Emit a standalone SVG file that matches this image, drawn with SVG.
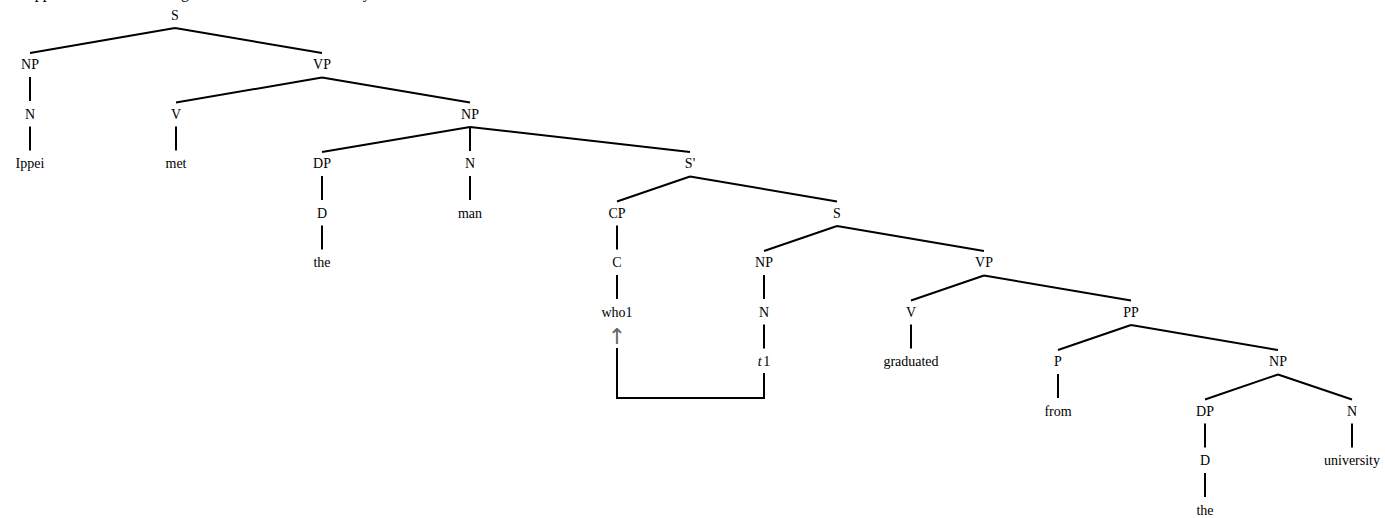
<svg xmlns="http://www.w3.org/2000/svg" width="1385" height="518" viewBox="0 0 1385 518">
<style>
text{font-family:"Liberation Serif","Times New Roman",serif;font-size:14px;fill:#000;text-anchor:middle}
.sent{font-size:16px;text-anchor:start}
.arr{font-family:"DejaVu Sans",sans-serif;font-size:22px;fill:#666}
.e{stroke:#000;stroke-width:2;fill:none}
</style>
<rect width="1385" height="518" fill="#fff"/>
<text class="sent" x="29.5" y="-2.5">Ippei met the man who graduated from the university</text>
<g id="connectors" class="e">
<path d="M175,28L30,53M175,28L322,53"/>
<path d="M30,77V101M30,126.5V150.5"/>
<path d="M322,77.5L176,102.5M322,77.5L470,102.5"/>
<path d="M176,126.5V150.5"/>
<path d="M470,127L322,152M470,127V151M470,127L690,152"/>
<path d="M322,176V200M322,225.5V249.5M470,176V200"/>
<path d="M690,176.5L617,201.5M690,176.5L837,201.5"/>
<path d="M617,225.5V249.5M617,275V299"/>
<path d="M837,226L764,251M837,226L984,251"/>
<path d="M764,275V299M764,324.5V348.5"/>
<path d="M984,275.5L911,300.5M984,275.5L1131,300.5"/>
<path d="M911,324.5V348.5"/>
<path d="M1131,325L1058,350M1131,325L1278,350"/>
<path d="M1058,374V398"/>
<path d="M1278,374.5L1205,399.5M1278,374.5L1352,399.5"/>
<path d="M1205,423.5V447.5M1205,473V497M1352,423.5V447.5"/>
<path d="M617,348V398H764V373"/>
</g>
<g id="n-S"><text x="175" y="19.8">S</text></g>
<g id="n-NP1"><text x="30" y="69.3">NP</text></g>
<g id="n-VP1"><text x="322" y="69.3">VP</text></g>
<g id="n-N1"><text x="30" y="118.8">N</text></g>
<g id="n-V1"><text x="176" y="118.8">V</text></g>
<g id="n-NP2"><text x="470" y="118.8">NP</text></g>
<g id="n-Ippei"><text x="30" y="168.3">Ippei</text></g>
<g id="n-met"><text x="176" y="168.3">met</text></g>
<g id="n-DP1"><text x="322" y="168.3">DP</text></g>
<g id="n-N2"><text x="470" y="168.3">N</text></g>
<g id="n-Sbar"><text x="690" y="168.3">S'</text></g>
<g id="n-D1"><text x="322" y="217.8">D</text></g>
<g id="n-man"><text x="470" y="217.8">man</text></g>
<g id="n-CP"><text x="617" y="217.8">CP</text></g>
<g id="n-S2"><text x="837" y="217.8">S</text></g>
<g id="n-the1"><text x="322" y="267.3">the</text></g>
<g id="n-C"><text x="617" y="267.3">C</text></g>
<g id="n-NP3"><text x="764" y="267.3">NP</text></g>
<g id="n-VP2"><text x="984" y="267.3">VP</text></g>
<g id="n-who1"><text x="617" y="316.8">who1</text></g>
<g id="n-N3"><text x="764" y="316.8">N</text></g>
<g id="n-V2"><text x="911" y="316.8">V</text></g>
<g id="n-PP"><text x="1131" y="316.8">PP</text></g>
<g id="n-arrow"><text class="arr" x="617" y="344">↑</text></g>
<g id="n-t1"><text x="764" y="366.3"><tspan font-style="italic">t</tspan><tspan dx="1.5">1</tspan></text></g>
<g id="n-graduated"><text x="911" y="366.3">graduated</text></g>
<g id="n-P"><text x="1058" y="366.3">P</text></g>
<g id="n-NP4"><text x="1278" y="366.3">NP</text></g>
<g id="n-from"><text x="1058" y="415.8">from</text></g>
<g id="n-DP2"><text x="1205" y="415.8">DP</text></g>
<g id="n-N4"><text x="1352" y="415.8">N</text></g>
<g id="n-D2"><text x="1205" y="465.3">D</text></g>
<g id="n-university"><text x="1352" y="465.3">university</text></g>
<g id="n-the2"><text x="1205" y="514.8">the</text></g>
</svg>
